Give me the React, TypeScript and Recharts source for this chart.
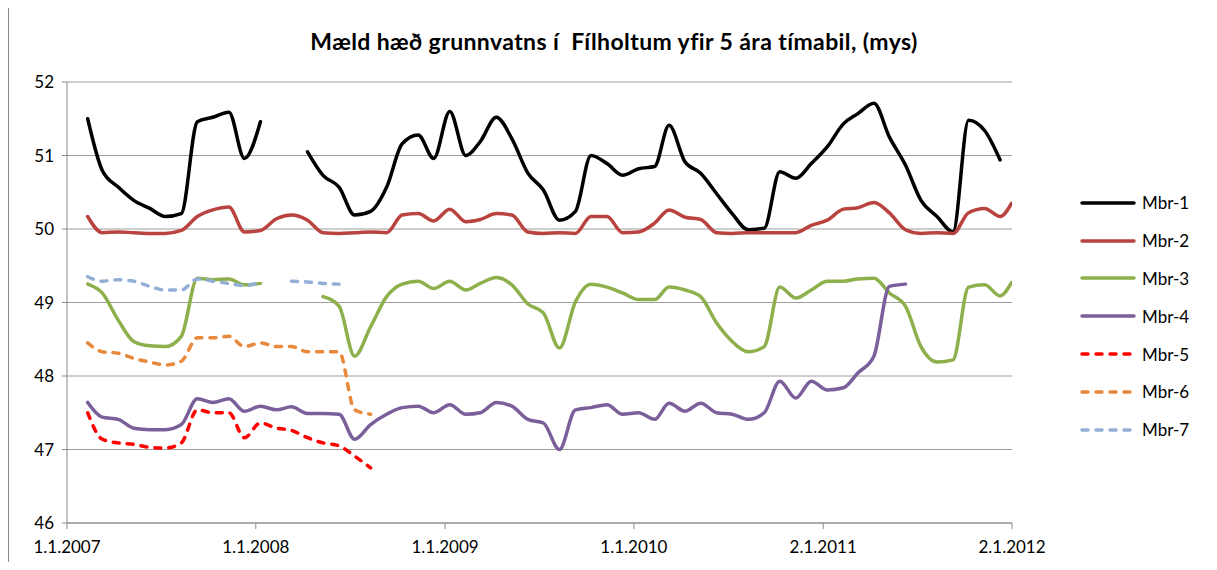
import { CartesianGrid, Legend, Line, LineChart, XAxis, YAxis } from "recharts";

const title = "Mæld hæð grunnvatns í  Fílholtum yfir 5 ára tímabil, (mys)";

const tickDates = ["2007-01-01", "2008-01-01", "2009-01-01", "2010-01-01", "2011-01-02", "2012-01-02"];
const tickLabels = ["1.1.2007", "1.1.2008", "1.1.2009", "1.1.2010", "2.1.2011", "2.1.2012"];
const yTicks = [46, 47, 48, 49, 50, 51, 52];

// measurement dates, roughly monthly
const dates = [
  "2007-02-10", "2007-03-10", "2007-04-10", "2007-05-10", "2007-06-10", "2007-07-10",
  "2007-08-10", "2007-09-10", "2007-10-10", "2007-11-10", "2007-12-10",
  "2008-01-10", "2008-02-10", "2008-03-10", "2008-04-10", "2008-05-10", "2008-06-10",
  "2008-07-10", "2008-08-10", "2008-09-10", "2008-10-10", "2008-11-10", "2008-12-10",
  "2009-01-10", "2009-02-10", "2009-03-10", "2009-04-10", "2009-05-10", "2009-06-10",
  "2009-07-10", "2009-08-10", "2009-09-10", "2009-10-10", "2009-11-10", "2009-12-10",
  "2010-01-10", "2010-02-10", "2010-03-10", "2010-04-10", "2010-05-10", "2010-06-10",
  "2010-07-10", "2010-08-10", "2010-09-10", "2010-10-10", "2010-11-10", "2010-12-10",
  "2011-01-10", "2011-02-10", "2011-03-10", "2011-04-10", "2011-05-10", "2011-06-10",
  "2011-07-10", "2011-08-10", "2011-09-10", "2011-10-10", "2011-11-10", "2011-12-10",
  "2012-01-01",
];

const _ = null;

const mbr1 = [
  51.5, 50.8, 50.57, 50.39, 50.28, 50.17, 50.21, 51.46, 51.52, 51.59, 50.96,
  51.46, _, _, 51.05, 50.73, 50.57, 50.19, 50.24, 50.57, 51.16, 51.28, 50.96,
  51.6, 51.0, 51.19, 51.52, 51.23, 50.76, 50.53, 50.12, 50.24, 51.0, 50.89, 50.73,
  50.82, 50.85, 51.41, 50.91, 50.76, 50.48, 50.21, 49.99, 50.01, 50.78, 50.69, 50.89,
  51.12, 51.43, 51.57, 51.71, 51.25, 50.87, 50.39, 50.17, 49.96, 51.48, 51.34, 50.94,
  _,
];
const mbr2 = [
  50.17, 49.95, 49.96, 49.95, 49.94, 49.94, 49.98, 50.17, 50.26, 50.3, 49.96,
  49.98, 50.14, 50.19, 50.12, 49.95, 49.94, 49.95, 49.96, 49.95, 50.19, 50.21, 50.11,
  50.27, 50.1, 50.13, 50.21, 50.19, 49.96, 49.94, 49.95, 49.94, 50.17, 50.17, 49.95,
  49.96, 50.08, 50.26, 50.16, 50.13, 49.95, 49.94, 49.95, 49.95, 49.95, 49.95, 50.05,
  50.12, 50.27, 50.29, 50.36, 50.22, 49.99, 49.94, 49.95, 49.94, 50.22, 50.28, 50.17,
  50.35,
];
const mbr3 = [
  49.25, 49.13, 48.76, 48.47, 48.41, 48.4, 48.54, 49.33, 49.31, 49.32, 49.24,
  49.26, _, _, _, 49.08, 48.95, 48.27, 48.67, 49.08, 49.25, 49.29, 49.19,
  49.29, 49.17, 49.26, 49.34, 49.24, 48.98, 48.86, 48.38, 49.01, 49.25, 49.21, 49.13,
  49.04, 49.04, 49.21, 49.17, 49.08, 48.72, 48.47, 48.33, 48.4, 49.21, 49.06, 49.17,
  49.29, 49.29, 49.32, 49.33, 49.13, 48.95, 48.4, 48.19, 48.22, 49.21, 49.24, 49.09,
  49.27,
];
const mbr4 = [
  47.64, 47.44, 47.41, 47.29, 47.27, 47.27, 47.34, 47.69, 47.64, 47.69, 47.52,
  47.59, 47.54, 47.58, 47.49, 47.49, 47.48, 47.14, 47.34, 47.48, 47.57, 47.59, 47.5,
  47.61, 47.48, 47.5, 47.64, 47.59, 47.41, 47.36, 47.0, 47.54, 47.57, 47.61, 47.48,
  47.5, 47.41, 47.63, 47.52, 47.63, 47.5, 47.48, 47.41, 47.5, 47.93, 47.7, 47.93,
  47.81, 47.84, 48.04, 48.27, 49.22, 49.25, _, _, _, _, _, _,
  _,
];
const mbr5 = [
  47.5, 47.14, 47.09, 47.07, 47.03, 47.02, 47.09, 47.54, 47.5, 47.5, 47.16,
  47.36, 47.29, 47.26, 47.16, 47.09, 47.05, 46.91, 46.75, _, _, _, _,
];
const mbr6 = [
  48.45, 48.33, 48.31, 48.24, 48.19, 48.15, 48.2, 48.52, 48.52, 48.54, 48.4,
  48.45, 48.4, 48.4, 48.33, 48.33, 48.33, 47.54, 47.48, _, _, _, _,
];
const mbr7 = [
  49.35, 49.29, 49.31, 49.29, 49.22, 49.17, 49.17, 49.32, 49.29, 49.26, 49.23,
  49.28, _, 49.29, 49.28, 49.26, 49.25, _, _, _, _, _, _,
];

const seriesNames = ["Mbr-1", "Mbr-2", "Mbr-3", "Mbr-4", "Mbr-5", "Mbr-6", "Mbr-7"];
const seriesValues = [mbr1, mbr2, mbr3, mbr4, mbr5, mbr6, mbr7];
const seriesColors = ["#000000", "#B9433F", "#8DB04C", "#7A5F9B", "#FF0000", "#E8883A", "#93AFD6"];
const seriesDashed = [false, false, false, false, true, true, true];

const dayOf = (s: string) => {
  const [y, m, d] = s.split("-").map(Number);
  return (Date.UTC(y, m - 1, d) - Date.UTC(2007, 0, 1)) / 86400000;
};

const tickDays = tickDates.map(dayOf);

const data = dates.map((d, i) => {
  const row: Record<string, number | null> = { t: dayOf(d) };
  seriesNames.forEach((name, k) => {
    const v = seriesValues[k][i];
    row[name] = v === undefined ? null : v;
  });
  return row;
});

const font = "Lato, 'Open Sans', sans-serif";

function renderLegend() {
  return (
    <div style={{ fontFamily: font, fontSize: 17, color: "#000" }}>
      {seriesNames.map((name, k) => (
        <div key={name} style={{ display: "flex", alignItems: "center", height: 37.8 }}>
          <svg width={58} height={10} style={{ marginRight: 5 }}>
            <line
              x1={3}
              y1={5}
              x2={55}
              y2={5}
              stroke={seriesColors[k]}
              strokeWidth={3.5}
              strokeLinecap="round"
              strokeDasharray={seriesDashed[k] ? "6 8" : undefined}
            />
          </svg>
          <span>{name}</span>
        </div>
      ))}
    </div>
  );
}

export default function App() {
  return (
    <div style={{ position: "relative", width: 1217, height: 570, margin: -8, background: "#fff", overflow: "hidden" }}>
      <div
        style={{
          position: "absolute",
          left: 8,
          top: 3,
          width: 1204,
          height: 600,
          border: "1.5px solid #8a8a8a",
        }}
      />
      <div
        style={{
          position: "absolute",
          left: 0,
          width: 1228,
          top: 27,
          textAlign: "center",
          fontFamily: font,
          fontWeight: 700,
          fontSize: 23,
          letterSpacing: 0.4,
          whiteSpace: "pre",
          color: "#000",
        }}
      >
        {title}
      </div>
      <div style={{ position: "absolute", left: 0, top: 0 }}>
        <LineChart width={1217} height={570} data={data} margin={{ top: 82, right: 205, left: 0, bottom: 17 }}>
          <CartesianGrid horizontal vertical={false} stroke="#9d9d9d" strokeWidth={1.2} />
          <XAxis
            dataKey="t"
            type="number"
            domain={[0, tickDays[tickDays.length - 1]]}
            ticks={tickDays}
            tickFormatter={(v: number) => tickLabels[tickDays.indexOf(v)] ?? ""}
            height={30}
            tickSize={6}
            tickMargin={12}
            stroke="#8a8a8a"
            tick={{ fill: "#000", fontFamily: font, fontSize: 17 }}
            interval={0}
            allowDataOverflow
          />
          <YAxis
            domain={[46, 52]}
            ticks={yTicks}
            width={67}
            tickSize={5}
            tickMargin={8}
            stroke="#8a8a8a"
            tick={{ fill: "#000", fontFamily: font, fontSize: 17 }}
            interval={0}
          />
          <Legend
            layout="vertical"
            align="center"
            verticalAlign="middle"
            content={renderLegend}
            wrapperStyle={{ left: 1079, top: 184, width: 138 }}
          />
          {seriesNames.map((name, k) => (
            <Line
              key={name}
              dataKey={name}
              type="monotone"
              stroke={seriesColors[k]}
              strokeWidth={3.5}
              strokeDasharray={seriesDashed[k] ? "6 8" : undefined}
              strokeLinecap="round"
              dot={false}
              activeDot={false}
              connectNulls={false}
              isAnimationActive={false}
            />
          ))}
        </LineChart>
      </div>
    </div>
  );
}
